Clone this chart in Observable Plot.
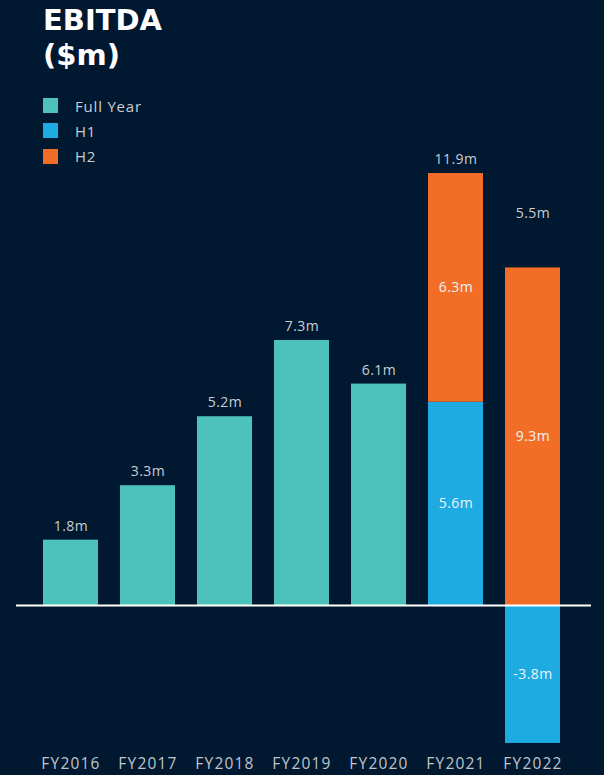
<!DOCTYPE html>
<html>
<head>
<meta charset="utf-8">
<script src="https://cdn.jsdelivr.net/npm/d3@7"></script>
<script src="https://cdn.jsdelivr.net/npm/@observablehq/plot@0.6"></script>
<style>
  html, body { margin: 0; padding: 0; background: #011831; }
  #wrap { position: relative; width: 604px; height: 775px; overflow: hidden; }
  #title { position: absolute; left: 43px; top: 3px; font-family: "DejaVu Sans", sans-serif; font-weight: bold; font-size: 29px; line-height: 35px; color: #ffffff; }
  #legend { position: absolute; left: 43px; top: 93px; font-family: "Open Sans", sans-serif; font-size: 15px; color: #c9ced4; letter-spacing: 0.8px; }
  .item { display: flex; align-items: center; height: 25.3px; }
  .sw { width: 15px; height: 15px; margin-right: 17px; }
  #chart { position: absolute; left: 0; top: 0; }
  g[aria-label="x-axis tick label"] text { letter-spacing: 1.2px; }
  g[aria-label="text"] text { letter-spacing: 0.5px; }
</style>
</head>
<body>
<div id="wrap">
  <div id="chart"></div>
  <div id="title">EBITDA<br>($m)</div>
  <div id="legend"></div>
</div>
<script>
const years = ["FY2016", "FY2017", "FY2018", "FY2019", "FY2020", "FY2021", "FY2022"];
const seriesNames = ["Full Year", "H1", "H2"];
const seriesColors = ["#4dc2bb", "#1eabe2", "#f26e27"];
const fullYear = [1.8, 3.3, 5.2, 7.3, 6.1, null, null];
const h1 = [null, null, null, null, null, 5.6, -3.8];
const h2 = [null, null, null, null, null, 6.3, 9.3];
const totals = [1.8, 3.3, 5.2, 7.3, 6.1, 11.9, 5.5];

const rows = [];
years.forEach((yr, i) => {
  if (fullYear[i] != null) rows.push({year: yr, series: "Full Year", value: fullYear[i]});
  if (h1[i] != null) rows.push({year: yr, series: "H1", value: h1[i]});
  if (h2[i] != null) rows.push({year: yr, series: "H2", value: h2[i]});
});

// top label anchor = top of positive stack
const tops = years.map((yr, i) => ({
  year: yr,
  top: d3.sum(rows.filter(r => r.year === yr && r.value > 0), r => r.value),
  label: totals[i] + "m"
}));
const halves = rows.filter(r => r.series !== "Full Year");

const stackOpts = {x: "year", y: "value", fill: "series", order: seriesNames};

const chart = Plot.plot({
  width: 604,
  height: 775,
  marginLeft: 19.3,
  marginRight: 20.7,
  marginTop: 96.8,
  marginBottom: 24.8,
  style: {background: "transparent", color: "#bfc5cc", fontFamily: "Open Sans, sans-serif"},
  x: {domain: years, padding: 0.28, label: null},
  y: {domain: [-4, 14], axis: null},
  color: {domain: seriesNames, range: seriesColors},
  marks: [
    Plot.barY(rows, Plot.stackY({...stackOpts})),
    Plot.ruleY([0], {stroke: "#ffffff", strokeWidth: 2, insetLeft: -3.3, insetRight: -7.7}),
    Plot.text(halves, Plot.stackY({x: "year", y: "value", z: "series", order: seriesNames,
      text: d => d.value + "m", fill: "#eef3f7", fontSize: 14, fontFamily: "Open Sans, sans-serif"})),
    Plot.text(tops.filter(d => d.year !== "FY2022"), {x: "year", y: "top", text: "label", dy: -14,
      fill: "#c9ced4", fontSize: 14, fontFamily: "Open Sans, sans-serif"}),
    Plot.text(tops.filter(d => d.year === "FY2022"), {x: "year", y: "top", text: "label", dy: -54,
      fill: "#c9ced4", fontSize: 14, fontFamily: "Open Sans, sans-serif"}),
    Plot.axisX({tickSize: 0, tickPadding: 7, fontSize: 15.5, label: null, color: "#bfc5cc"})
  ]
});
document.getElementById("chart").appendChild(chart);

const legend = document.getElementById("legend");
seriesNames.forEach((name, i) => {
  const it = document.createElement("div");
  it.className = "item";
  it.innerHTML = `<span class="sw" style="background:${seriesColors[i]}"></span><span>${name}</span>`;
  legend.appendChild(it);
});
</script>
</body>
</html>
